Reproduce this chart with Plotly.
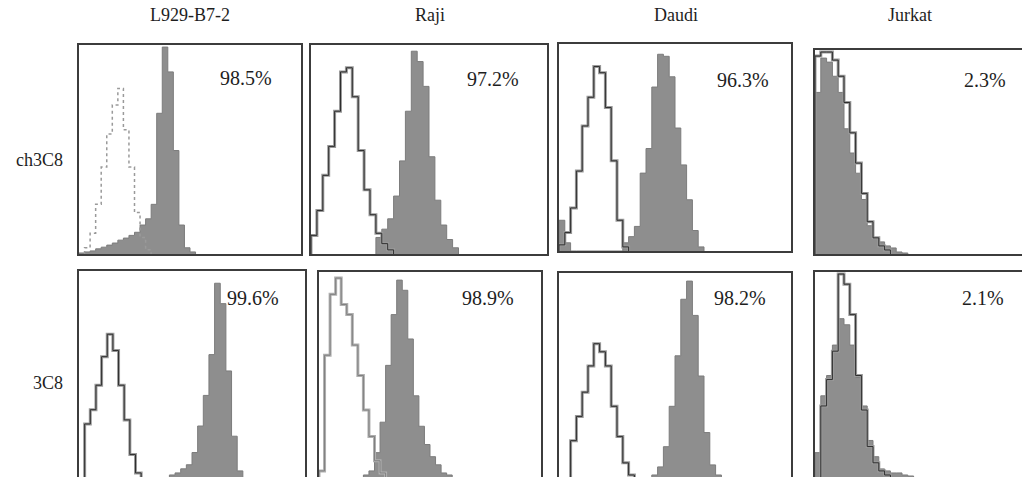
import plotly.graph_objects as go

W, H = 1022, 477

cell_lines = ["L929-B7-2", "Raji", "Daudi", "Jurkat"]
antibodies = ["ch3C8", "3C8"]
positive_pct = [["98.5%", "97.2%", "96.3%", "2.3%"],
                ["99.6%", "98.9%", "98.2%", "2.1%"]]

# Relative cell counts in 40 fluorescence-channel bins (channel 0-100)
ch3c8_l929_stained = [0.5, 1, 1.5, 2.5, 3.3, 4.3, 5.3, 6.7, 7.7, 9, 10.5, 14, 17, 24, 68, 100, 88, 50, 14, 3,
                      1, 0, 0, 0, 0, 0, 0, 0, 0, 0, 0, 0, 0, 0, 0, 0, 0, 0, 0, 0]
ch3c8_l929_isotype = [0, 3, 10, 24, 42, 58, 72, 80, 60, 42, 20, 8, 2, 0, 0, 0, 0, 0, 0, 0,
                      0, 0, 0, 0, 0, 0, 0, 0, 0, 0, 0, 0, 0, 0, 0, 0, 0, 0, 0, 0]
ch3c8_raji_stained = [0, 0, 0, 0, 0, 0, 0, 0, 0, 0, 0, 8, 12, 17, 28, 45, 69, 98, 93, 81,
                      47, 26, 14, 7, 3, 0, 0, 0, 0, 0, 0, 0, 0, 0, 0, 0, 0, 0, 0, 0]
ch3c8_raji_isotype = [9, 21, 38, 52, 69, 88, 90, 76, 50, 31, 19, 10, 5, 2, 0, 0, 0, 0, 0, 0,
                      0, 0, 0, 0, 0, 0, 0, 0, 0, 0, 0, 0, 0, 0, 0, 0, 0, 0, 0, 0]
ch3c8_daudi_stained = [15, 4, 0, 0, 0, 0, 0, 0, 0, 0, 0, 4, 7, 12, 38, 50, 80, 96, 95, 85,
                       60, 42, 25, 10, 2, 0, 0, 0, 0, 0, 0, 0, 0, 0, 0, 0, 0, 0, 0, 0]
ch3c8_daudi_isotype = [3, 9, 21, 39, 61, 75, 90, 87, 70, 44, 15, 2, 0, 0, 0, 0, 0, 0, 0, 0,
                       0, 0, 0, 0, 0, 0, 0, 0, 0, 0, 0, 0, 0, 0, 0, 0, 0, 0, 0, 0]
ch3c8_jurkat_stained = [80, 97, 95, 88, 80, 62, 50, 40, 27, 14, 8, 6, 4, 3, 1, 0.5, 0, 0, 0, 0,
                        0, 0, 0, 0, 0, 0, 0, 0, 0, 0, 0, 0, 0, 0, 0, 0, 0, 0, 0, 0]
ch3c8_jurkat_isotype = [98, 100, 100, 96, 88, 75, 60, 45, 30, 16, 8, 4, 2, 0, 0, 0, 0, 0, 0, 0,
                        0, 0, 0, 0, 0, 0, 0, 0, 0, 0, 0, 0, 0, 0, 0, 0, 0, 0, 0, 0]

m3c8_l929_stained = [0, 0, 0, 0, 0, 0, 0, 0, 0, 0, 0, 0, 0, 0, 0, 0, 1, 2, 4, 6,
                     12, 25, 40, 60, 95, 85, 52, 20, 3, 0, 0, 0, 0, 0, 0, 0, 0, 0, 0, 0]
m3c8_l929_isotype = [0, 26, 33, 45, 59, 70, 62, 45, 28, 11, 2, 0, 0, 0, 0, 0, 0, 0, 0, 0,
                     0, 0, 0, 0, 0, 0, 0, 0, 0, 0, 0, 0, 0, 0, 0, 0, 0, 0, 0, 0]
m3c8_raji_stained = [0, 0, 0, 0, 0, 0, 0, 0, 1, 3, 12, 27, 55, 80, 97, 92, 68, 40, 25, 16,
                     10, 6, 2, 1, 0, 0, 0, 0, 0, 0, 0, 0, 0, 0, 0, 0, 0, 0, 0, 0]
m3c8_raji_isotype = [3, 60, 90, 98, 85, 80, 65, 50, 33, 20, 8, 2, 0, 0, 0, 0, 0, 0, 0, 0,
                     0, 0, 0, 0, 0, 0, 0, 0, 0, 0, 0, 0, 0, 0, 0, 0, 0, 0, 0, 0]
m3c8_daudi_stained = [0, 0, 0, 0, 0, 0, 0, 0, 0, 0, 0, 0, 0, 0, 0, 0, 1, 5, 15, 35,
                      60, 88, 97, 80, 50, 22, 6, 1, 0, 0, 0, 0, 0, 0, 0, 0, 0, 0, 0, 0]
m3c8_daudi_isotype = [0, 0, 18, 30, 42, 55, 66, 62, 55, 35, 20, 7, 1, 0, 0, 0, 0, 0, 0, 0,
                      0, 0, 0, 0, 0, 0, 0, 0, 0, 0, 0, 0, 0, 0, 0, 0, 0, 0, 0, 0]
m3c8_jurkat_stained = [12, 40, 50, 65, 78, 75, 65, 49, 35, 18, 10, 4, 3, 2, 2, 1, 0.5, 0, 0, 0,
                       0, 0, 0, 0, 0, 0, 0, 0, 0, 0, 0, 0, 0, 0, 0, 0, 0, 0, 0, 0]
m3c8_jurkat_isotype = [0, 35, 48, 62, 100, 95, 80, 50, 33, 15, 7, 3, 1, 0, 0, 0, 0, 0, 0, 0,
                       0, 0, 0, 0, 0, 0, 0, 0, 0, 0, 0, 0, 0, 0, 0, 0, 0, 0, 0, 0]

stained = [[ch3c8_l929_stained, ch3c8_raji_stained, ch3c8_daudi_stained, ch3c8_jurkat_stained],
           [m3c8_l929_stained, m3c8_raji_stained, m3c8_daudi_stained, m3c8_jurkat_stained]]
isotype = [[ch3c8_l929_isotype, ch3c8_raji_isotype, ch3c8_daudi_isotype, ch3c8_jurkat_isotype],
           [m3c8_l929_isotype, m3c8_raji_isotype, m3c8_daudi_isotype, m3c8_jurkat_isotype]]

N_BINS = 40
BIN_W = 100.0 / N_BINS

# panel boxes in pixels: (left, right, top, bottom, full_width)
boxes = [
    [(79, 301, 45, 254, 222), (311, 547, 45, 254, 236), (559, 791, 44, 251, 232), (815, 1022, 50, 254, 232)],
    [(79, 305, 271, 477, 226), (319, 541, 272, 477, 222), (559, 791, 273, 477, 232), (815, 1022, 272, 477, 232)],
]

FILL = "#8e8e8e"
BORDER = "#3c3c3c"
SERIF = "Times New Roman, Liberation Serif, serif"

fig = go.Figure()
layout = dict(width=W, height=H, margin=dict(l=0, r=0, t=0, b=0),
              paper_bgcolor="white", plot_bgcolor="white", showlegend=False)


def step_xy(counts):
    nz = [i for i, c in enumerate(counts) if c > 0]
    a, b = nz[0], nz[-1]
    xs = [a * BIN_W]
    ys = [0]
    for i in range(a, b + 1):
        xs += [i * BIN_W, (i + 1) * BIN_W]
        ys += [counts[i], counts[i]]
    xs.append((b + 1) * BIN_W)
    ys.append(0)
    return xs, ys


annotations = []
k = 0
for r in range(2):
    for c in range(4):
        k += 1
        left, right, top, bottom, full = boxes[r][c]
        xa = "xaxis" if k == 1 else f"xaxis{k}"
        ya = "yaxis" if k == 1 else f"yaxis{k}"
        xref = "x" if k == 1 else f"x{k}"
        yref = "y" if k == 1 else f"y{k}"
        xmax = 100.0 * (right - left) / full
        cut_right = c == 3
        cut_bottom = r == 1
        layout[xa] = dict(domain=[left / W, right / W], range=[0, xmax], anchor=yref,
                          showgrid=False, zeroline=False, showticklabels=False, ticks="",
                          showline=True, linecolor=BORDER, linewidth=2,
                          mirror=(not cut_bottom), side=("top" if cut_bottom else "bottom"))
        layout[ya] = dict(domain=[1 - bottom / H, 1 - top / H], range=[0, 101], anchor=xref,
                          showgrid=False, zeroline=False, showticklabels=False, ticks="",
                          showline=True, linecolor=BORDER, linewidth=2,
                          mirror=(not cut_right))

        sx, sy = step_xy(stained[r][c])
        fig.add_trace(go.Scatter(x=sx, y=sy, mode="lines", line=dict(color="#7c7c7c", width=1),
                                 fill="tozeroy", fillcolor=FILL, xaxis=xref, yaxis=yref,
                                 hoverinfo="skip"))
        ix, iy = step_xy(isotype[r][c])
        if r == 0 and c == 0:
            fig.add_trace(go.Scatter(x=ix, y=iy, mode="lines",
                                     line=dict(color="#9a9a9a", width=1.5, dash="dot"),
                                     xaxis=xref, yaxis=yref, hoverinfo="skip"))
        else:
            light = (r == 1 and c == 1)
            fig.add_trace(go.Scatter(x=ix, y=iy, mode="lines",
                                     line=dict(color="#b0b0b0" if light else "#9a9a9a", width=3),
                                     xaxis=xref, yaxis=yref, hoverinfo="skip"))
            fig.add_trace(go.Scatter(x=ix, y=iy, mode="lines",
                                     line=dict(color="#808080" if light else "#2e2e2e", width=1),
                                     xaxis=xref, yaxis=yref, hoverinfo="skip"))

# percentage labels (centre positions in pixels)
pct_pos = [[(246, 78), (493, 79), (743, 80), (985, 80)],
           [(253, 298), (488, 298), (740, 298), (983, 298)]]
for r in range(2):
    for c in range(4):
        px, py = pct_pos[r][c]
        annotations.append(dict(text=positive_pct[r][c], x=px / W, y=1 - py / H, xref="paper", yref="paper",
                                xanchor="center", yanchor="middle", showarrow=False,
                                font=dict(family=SERIF, size=20, color="#1e1e1e")))

title_pos = [190, 430, 676, 910]
for c in range(4):
    annotations.append(dict(text=cell_lines[c], x=title_pos[c] / W, y=1 - 15 / H, xref="paper", yref="paper",
                            xanchor="center", yanchor="middle", showarrow=False,
                            font=dict(family=SERIF, size=18, color="#1e1e1e")))

row_pos = [160, 383]
for r in range(2):
    annotations.append(dict(text=antibodies[r], x=65 / W, y=1 - row_pos[r] / H, xref="paper", yref="paper",
                            xanchor="right", yanchor="middle", showarrow=False,
                            font=dict(family=SERIF, size=18, color="#1e1e1e")))

layout["annotations"] = annotations
fig.update_layout(**layout)
fig.write_html("out.html", config={"displayModeBar": False},
               post_script="document.body.style.margin='0';document.body.style.overflow='hidden';")
